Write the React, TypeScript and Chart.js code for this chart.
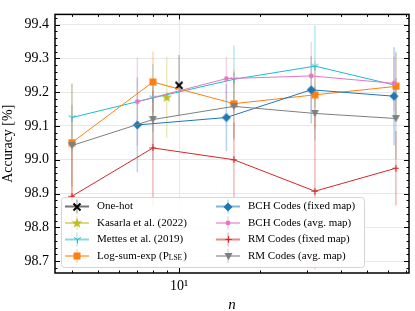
import React, { useEffect, useRef } from 'react';
import { Chart, registerables } from 'chart.js';
Chart.register(...registerables);

// ---------- data ----------
const nPow2 = [4, 8, 16, 32, 64];
const nBCH = [7, 15, 31, 63];
const oneHotN = [10];
const oneHotAcc = [99.22];
const oneHotErr = [0.09];
const kasarlaN = [9];
const kasarlaAcc = [99.185];
const kasarlaErr = [0.12];
const mettesAcc = [99.125, 99.183, 99.238, 99.277, 99.22];
const mettesErr = [0.1, 0.1, 0.1, 0.12, 0.1];
const lseAcc = [99.051, 99.23, 99.166, 99.192, 99.217];
const lseErr = [0.175, 0.09, 0.1, 0.1, 0.1];
const bchFixedAcc = [99.103, 99.125, 99.207, 99.188];
const bchFixedErr = [0.14, 0.1, 0.1, 0.145];
const bchAvgAcc = [99.172, 99.24, 99.248, 99.226];
const bchAvgErr = [0.13, 0.065, 0.1, 0.08];
const rmFixedAcc = [98.892, 99.035, 99.0, 98.907, 98.975];
const rmFixedErr = [0.15, 0.17, 0.11, 0.23, 0.11];
const rmAvgAcc = [99.042, 99.119, 99.158, 99.137, 99.122];
const rmAvgErr = [0.12, 0.12, 0.1, 0.08, 0.12];

const yTicks = [98.7, 98.8, 98.9, 99.0, 99.1, 99.2, 99.3, 99.4];
const yMinorStep = 0.02;
const xMajorTicks = [10];
const xMinorTicks = [4, 5, 6, 7, 8, 9, 20, 30, 40, 50, 60, 70];

const SERIF = '"Liberation Serif", "DejaVu Serif", serif';

type Series = { label: string; xs: number[]; ys: number[]; errs: number[]; color: string; marker: string };

const series: Series[] = [
  { label: 'One-hot', xs: oneHotN, ys: oneHotAcc, errs: oneHotErr, color: '#000000', marker: 'x' },
  { label: 'Kasarla et al. (2022)', xs: kasarlaN, ys: kasarlaAcc, errs: kasarlaErr, color: '#bcbd22', marker: 'star' },
  { label: 'Mettes et al. (2019)', xs: nPow2, ys: mettesAcc, errs: mettesErr, color: '#17becf', marker: 'tri_down' },
  { label: 'Log-sum-exp (P', xs: nPow2, ys: lseAcc, errs: lseErr, color: '#ff7f0e', marker: 'square' },
  { label: 'BCH Codes (fixed map)', xs: nBCH, ys: bchFixedAcc, errs: bchFixedErr, color: '#1f77b4', marker: 'diamond' },
  { label: 'BCH Codes (avg. map)', xs: nBCH, ys: bchAvgAcc, errs: bchAvgErr, color: '#e377c2', marker: 'circle' },
  { label: 'RM Codes (fixed map)', xs: nPow2, ys: rmFixedAcc, errs: rmFixedErr, color: '#d62728', marker: 'plus' },
  { label: 'RM Codes (avg. map)', xs: nPow2, ys: rmAvgAcc, errs: rmAvgErr, color: '#7f7f7f', marker: 'tri_v' },
];

function hexA(hex: string, a: number) {
  const r = parseInt(hex.slice(1, 3), 16), g = parseInt(hex.slice(3, 5), 16), b = parseInt(hex.slice(5, 7), 16);
  return `rgba(${r},${g},${b},${a})`;
}

function makeMarker(kind: string, color: string): HTMLCanvasElement {
  const sizes: Record<string, number> = { x: 10, star: 12, tri_down: 9, square: 8, diamond: 10, circle: 6, plus: 7, tri_v: 9 };
  const s = sizes[kind] || 8;
  const c = document.createElement('canvas');
  c.width = s; c.height = s;
  const g = c.getContext('2d')!;
  g.strokeStyle = color; g.fillStyle = color;
  g.beginPath();
  switch (kind) {
    case 'x':
      g.lineWidth = 2;
      g.moveTo(1.5, 1.5); g.lineTo(8.5, 8.5);
      g.moveTo(8.5, 1.5); g.lineTo(1.5, 8.5);
      g.stroke();
      break;
    case 'star': {
      const cx = 6, cy = 6.3, ro = 5.6, ri = 2.3;
      for (let i = 0; i < 10; i++) {
        const r = i % 2 === 0 ? ro : ri;
        const a = -Math.PI / 2 + (i * Math.PI) / 5;
        const px = cx + r * Math.cos(a), py = cy + r * Math.sin(a);
        if (i === 0) g.moveTo(px, py); else g.lineTo(px, py);
      }
      g.closePath(); g.fill();
      break;
    }
    case 'tri_down':
      g.lineWidth = 1;
      g.moveTo(4.5, 4.5); g.lineTo(4.5, 8.5);
      g.moveTo(4.5, 4.5); g.lineTo(1.0, 2.5);
      g.moveTo(4.5, 4.5); g.lineTo(8.0, 2.5);
      g.stroke();
      break;
    case 'square':
      g.fillRect(0.5, 0.5, 7, 7);
      break;
    case 'diamond':
      g.moveTo(5, 0.5); g.lineTo(9.5, 5); g.lineTo(5, 9.5); g.lineTo(0.5, 5); g.closePath(); g.fill();
      break;
    case 'circle':
      g.arc(3, 3, 2.4, 0, Math.PI * 2); g.fill();
      break;
    case 'plus':
      g.lineWidth = 1.2;
      g.moveTo(3.5, 0.3); g.lineTo(3.5, 6.7);
      g.moveTo(0.3, 3.5); g.lineTo(6.7, 3.5);
      g.stroke();
      break;
    case 'tri_v':
      g.moveTo(0.5, 1); g.lineTo(8.5, 1); g.lineTo(4.5, 8.3); g.closePath(); g.fill();
      break;
  }
  return c;
}

export default function App() {
  const ref = useRef<HTMLCanvasElement>(null);
  useEffect(() => {
    document.body.style.margin = '0';
    const markers = series.map((s) => makeMarker(s.marker, s.color));

    const errorBars = {
      id: 'errorBars',
      beforeDatasetsDraw(chart: any) {
        const { ctx, chartArea: a, scales } = chart;
        ctx.save();
        ctx.beginPath();
        ctx.rect(a.left, a.top, a.right - a.left, a.bottom - a.top);
        ctx.clip();
        series.forEach((s) => {
          ctx.strokeStyle = hexA(s.color, s.color === '#000000' ? 0.25 : 0.32);
          ctx.lineWidth = 1.5;
          s.xs.forEach((xv, i) => {
            const px = scales.x.getPixelForValue(xv);
            ctx.beginPath();
            ctx.moveTo(px, scales.y.getPixelForValue(s.ys[i] - s.errs[i]));
            ctx.lineTo(px, scales.y.getPixelForValue(s.ys[i] + s.errs[i]));
            ctx.stroke();
          });
        });
        ctx.restore();
      },
    };

    const frameAndLegend = {
      id: 'frameAndLegend',
      afterDraw(chart: any) {
        const { ctx, chartArea: a, scales } = chart;
        ctx.save();
        // ticks (inward, all four sides)
        ctx.strokeStyle = '#000';
        ctx.lineWidth = 1;
        const yTick = (v: number, len: number) => {
          const py = Math.round(scales.y.getPixelForValue(v)) + 0.5;
          ctx.beginPath();
          ctx.moveTo(a.left, py); ctx.lineTo(a.left + len, py);
          ctx.moveTo(a.right, py); ctx.lineTo(a.right - len, py);
          ctx.stroke();
        };
        const xTick = (v: number, len: number) => {
          const px = Math.round(scales.x.getPixelForValue(v)) + 0.5;
          ctx.beginPath();
          ctx.moveTo(px, a.bottom); ctx.lineTo(px, a.bottom - len);
          ctx.moveTo(px, a.top); ctx.lineTo(px, a.top + len);
          ctx.stroke();
        };
        const yMin = scales.y.min, yMax = scales.y.max;
        for (let k = Math.ceil(yMin / yMinorStep); k * yMinorStep <= yMax; k++) {
          const v = k * yMinorStep;
          if (!yTicks.some((t) => Math.abs(t - v) < 1e-6)) yTick(v, 2.5);
        }
        yTicks.forEach((v) => yTick(v, 5));
        xMinorTicks.forEach((v) => xTick(v, 2.5));
        xMajorTicks.forEach((v) => xTick(v, 5));
        // frame
        ctx.lineWidth = 1.5;
        ctx.strokeRect(a.left, a.top, a.right - a.left, a.bottom - a.top);

        // legend
        const bx = 61, by = 197, bw = 303, bh = 70;
        ctx.beginPath();
        ctx.roundRect(bx + 0.5, by + 0.5, bw, bh, 3);
        ctx.fillStyle = 'rgba(255,255,255,0.85)';
        ctx.fill();
        ctx.strokeStyle = '#d5d5d5';
        ctx.lineWidth = 1;
        ctx.stroke();

        const cols = [{ x0: 65, mx: 77, x1: 89, tx: 97 }, { x0: 216, mx: 228, x1: 240, tx: 248 }];
        const rowY = [206.5, 223, 239.5, 256];
        ctx.font = `11px ${SERIF}`;
        ctx.textBaseline = 'middle';
        ctx.textAlign = 'left';
        series.forEach((s, i) => {
          const c = cols[Math.floor(i / 4)];
          const y = rowY[i % 4];
          ctx.strokeStyle = hexA(s.color, 0.55);
          ctx.lineWidth = 2;
          ctx.beginPath(); ctx.moveTo(c.x0, y); ctx.lineTo(c.x1, y); ctx.stroke();
          ctx.strokeStyle = hexA(s.color, 0.3);
          ctx.lineWidth = 1.5;
          ctx.beginPath(); ctx.moveTo(c.mx, y - 7); ctx.lineTo(c.mx, y + 7); ctx.stroke();
          const m = markers[i];
          ctx.drawImage(m, Math.round(c.mx - m.width / 2), Math.round(y - m.height / 2));
          ctx.fillStyle = '#000';
          ctx.font = `11px ${SERIF}`;
          ctx.fillText(s.label, c.tx, y);
          if (s.marker === 'square') {
            const w = ctx.measureText(s.label).width;
            ctx.font = `7.5px ${SERIF}`;
            ctx.fillText('LSE', c.tx + w, y + 2.5);
            const w2 = ctx.measureText('LSE').width;
            ctx.font = `11px ${SERIF}`;
            ctx.fillText(')', c.tx + w + w2 + 1, y);
          }
        });
        ctx.restore();
      },
    };

    const datasets = series.map((s, i) => ({
      label: s.label,
      data: s.xs.map((x, k) => ({ x, y: s.ys[k] })),
      borderColor: s.color,
      backgroundColor: s.color,
      borderWidth: 1,
      pointStyle: markers[i] as any,
      pointRadius: 5,
      pointHoverRadius: 5,
      tension: 0,
      fill: false,
      order: series.length - i,
    }));

    const chart = new Chart(ref.current!, {
      type: 'line',
      data: { datasets },
      options: {
        animation: false,
        responsive: false,
        devicePixelRatio: 1,
        events: [],
        layout: { padding: { top: 3, right: 6, left: 0, bottom: 0 } },
        plugins: { legend: { display: false }, tooltip: { enabled: false } },
        scales: {
          x: {
            type: 'logarithmic',
            min: 3.46,
            max: 71.6,
            afterBuildTicks: (s: any) => { s.ticks = xMajorTicks.map((v) => ({ value: v, major: true })); },
            afterFit: (s: any) => { s.height = 38; },
            ticks: {
              autoSkip: false,
              maxRotation: 0,
              padding: 5,
              color: '#000',
              font: { family: SERIF, size: 14 },
              callback: (v: any) => (Math.abs(Number(v) - 10) < 1e-9 ? '10¹' : ''),
            },
            grid: { color: '#e8e8e8', drawTicks: false, lineWidth: 1 },
            border: { display: false },
            title: {
              display: true,
              text: 'n',
              color: '#000',
              font: { family: SERIF, size: 15, style: 'italic', lineHeight: 0.8 },
              padding: { top: 0, bottom: 0 },
            },
          },
          y: {
            type: 'linear',
            min: 98.665,
            max: 99.43,
            afterBuildTicks: (s: any) => { s.ticks = yTicks.map((v) => ({ value: v })); },
            afterFit: (s: any) => { s.width = 55; },
            ticks: {
              padding: 6,
              color: '#000',
              font: { family: SERIF, size: 14 },
              callback: (v: any) => Number(v).toFixed(1),
            },
            grid: { color: '#e8e8e8', drawTicks: false, lineWidth: 1 },
            border: { display: false },
            title: {
              display: true,
              text: 'Accuracy [%]',
              color: '#000',
              font: { family: SERIF, size: 14 },
              padding: { top: 0, bottom: 0 },
            },
          },
        },
      },
      plugins: [errorBars, frameAndLegend],
    } as any);
    return () => chart.destroy();
  }, []);

  return (
    <div style={{ position: 'absolute', left: 0, top: 0, width: 415, height: 311, background: '#fff' }}>
      <canvas ref={ref} width={415} height={311} style={{ display: 'block' }} />
    </div>
  );
}
